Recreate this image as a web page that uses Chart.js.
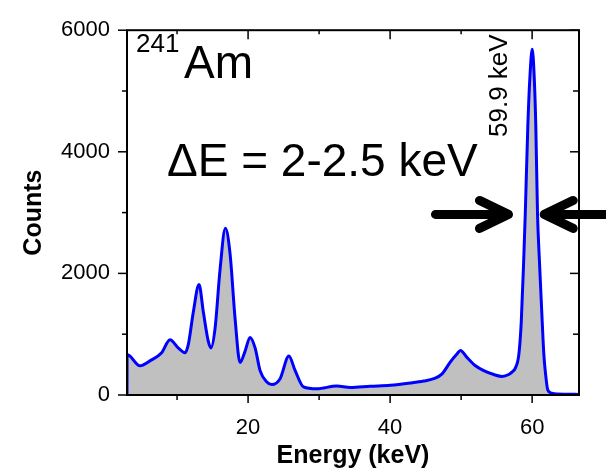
<!DOCTYPE html>
<html>
<head>
<meta charset="utf-8">
<script src="https://cdn.jsdelivr.net/npm/chart.js@4.4.0/dist/chart.umd.min.js"></script>
<style>
  html, body { margin: 0; padding: 0; background: #fff; }
  #wrap { width: 606px; height: 471px; }
</style>
</head>
<body>
<div id="wrap"><canvas id="amChart"></canvas></div>
<script>
// 241Am 스펙트럼
var energy = [2.95, 2.96, 4.77, 6.18, 7.83, 9.0, 10.17, 11.11, 11.58, 12.29,
	13.09, 13.7, 14.4, 14.78, 15.35, 16.05, 16.8, 17.46, 18.17, 18.87,
	19.58, 20.28, 20.99, 21.69, 22.64, 23.34, 24.51, 25.74, 26.63, 27.8,
	29.69, 32.5, 34.39, 37.2, 40.03, 42.85, 44.73, 46.14, 47.32, 48.49,
	49.44, 49.9, 50.85, 52.02, 53.19, 54.6, 55.78, 56.71, 57.2, 57.66,
	58.13, 58.47, 58.83, 59.03, 59.39, 59.68, 60.01, 60.3, 60.52, 60.76,
	61.0, 61.42, 61.65, 61.89, 62.21, 62.74, 63.45, 66.6];
var counts = [0, 668, 481, 561, 695, 909, 775, 695, 829, 1364,
	1818, 1364, 882, 775, 1096, 2058, 2743, 2326, 1256, 534,
	722, 947, 775, 401, 213, 171, 268, 642, 401, 133,
	101, 149, 123, 144, 160, 197, 229, 268, 348, 545,
	679, 733, 615, 481, 401, 337, 305, 337, 380, 450,
	669, 1203, 2273, 2968, 4412, 5214, 5685, 5214, 4412, 2968,
	2273, 1203, 669, 348, 80, 30, 15, 10];

var xTicks = [20, 40, 60];
var xMinor = [10, 30, 50];
var yTicks = [0, 2000, 4000, 6000];
var yMinor = [1000, 3000, 5000];

// FWHM 화살표 위치 (keV, counts)
var fwhmLeft = 56.95;
var fwhmRight = 61.42;
var fwhmLevel = 2970;

var FONT = "'Liberation Sans', Arial, sans-serif";

//축 테두리, 눈금, 주석 그리기
var framePlugin = {
	id: 'frame',
	afterDraw: function(chart) {
		var ctx = chart.ctx;
		var a = chart.chartArea;
		var xs = chart.scales.x, ys = chart.scales.y;
		ctx.save();
		ctx.strokeStyle = '#000';
		ctx.lineWidth = 2;
		ctx.strokeRect(a.left, a.top, a.right - a.left, a.bottom - a.top);

		function tick(x1, y1, x2, y2) {
			ctx.beginPath();
			ctx.moveTo(x1, y1);
			ctx.lineTo(x2, y2);
			ctx.stroke();
		}
		ctx.lineWidth = 1.5;
		xTicks.forEach(function(v) {
			var p = xs.getPixelForValue(v);
			tick(p, a.bottom, p, a.bottom + 8);
			tick(p, a.top, p, a.top + 9);
		});
		xMinor.forEach(function(v) {
			var p = xs.getPixelForValue(v);
			tick(p, a.bottom, p, a.bottom + 5);
			tick(p, a.top, p, a.top + 4);
		});
		yTicks.forEach(function(v) {
			var p = ys.getPixelForValue(v);
			tick(a.left - 9, p, a.left, p);
			tick(a.right - 9, p, a.right, p);
		});
		yMinor.forEach(function(v) {
			var p = ys.getPixelForValue(v);
			tick(a.left - 5, p, a.left, p);
			tick(a.right - 6, p, a.right, p);
		});

		// 텍스트
		ctx.fillStyle = '#000';
		ctx.textAlign = 'left';
		ctx.textBaseline = 'alphabetic';
		ctx.font = '26px ' + FONT;
		ctx.fillText('241', 136, 52);
		ctx.font = '46px ' + FONT;
		ctx.fillText('Am', 184, 78);
		ctx.fillText('\u0394E = 2-2.5 keV', 167, 176);

		ctx.save();
		ctx.translate(506.5, 137);
		ctx.rotate(-Math.PI / 2);
		ctx.font = '26px ' + FONT;
		ctx.fillText('59.9 keV', 0, 0);
		ctx.restore();

		// 화살표
		var yA = ys.getPixelForValue(fwhmLevel);
		var tl = xs.getPixelForValue(fwhmLeft);
		var tr = xs.getPixelForValue(fwhmRight);
		ctx.lineWidth = 9;
		ctx.lineCap = 'round';
		ctx.lineJoin = 'round';
		ctx.beginPath();
		ctx.moveTo(tl - 75, yA); ctx.lineTo(tl - 3, yA);
		ctx.moveTo(tl - 31, yA - 14); ctx.lineTo(tl - 2, yA); ctx.lineTo(tl - 31, yA + 14);
		ctx.moveTo(tr + 80, yA); ctx.lineTo(tr + 3, yA);
		ctx.moveTo(tr + 31, yA - 14); ctx.lineTo(tr + 2, yA); ctx.lineTo(tr + 31, yA + 14);
		ctx.stroke();
		ctx.restore();
	}
};

const ctxA = document.getElementById('amChart');

var amChart = new Chart(ctxA, {
	type: 'line',
	data: {
		datasets: [{
			data: energy.map(function(e, i) { return { x: e, y: counts[i] }; }),
			borderColor: '#0000ff',
			backgroundColor: '#c0c0c0',
			borderWidth: 3,
			fill: 'origin',
			pointRadius: 0,
			cubicInterpolationMode: 'monotone'
		}]
	},
	options: {
		responsive: true,
		maintainAspectRatio: false,
		animation: false,
		layout: { padding: { top: 21, right: 27, left: 0, bottom: 0 } },
		plugins: {
			legend: { display: false },
			tooltip: { enabled: false }
		},
		scales: {
			x: {
				type: 'linear',
				min: 2.95,
				max: 66.6,
				afterBuildTicks: function(s) { s.ticks = xTicks.map(function(v) { return { value: v }; }); },
				afterFit: function(s) { s.height = 76; },
				grid: { display: false, drawTicks: false },
				border: { display: false },
				ticks: {
					color: '#000', padding: 20, maxRotation: 0,
					font: { family: FONT, size: 22 },
					callback: function(v) { return String(v); }
				},
				title: {
					display: true,
					text: 'Energy (keV)',
					color: '#000',
					padding: { top: 0, bottom: 0 },
					font: { family: FONT, size: 25, weight: 'bold' }
				}
			},
			y: {
				min: 0,
				max: 6000,
				afterBuildTicks: function(s) { s.ticks = yTicks.map(function(v) { return { value: v }; }); },
				afterFit: function(s) { s.width = 127; },
				grid: { display: false, drawTicks: false },
				border: { display: false },
				ticks: {
					color: '#000', padding: 17,
					font: { family: FONT, size: 22 },
					callback: function(v) { return String(v); }
				},
				title: {
					display: true,
					text: 'Counts',
					color: '#000',
					padding: { top: 19, bottom: 0 },
					font: { family: FONT, size: 25, weight: 'bold' }
				}
			}
		}
	},
	plugins: [framePlugin]
});
</script>
</body>
</html>
